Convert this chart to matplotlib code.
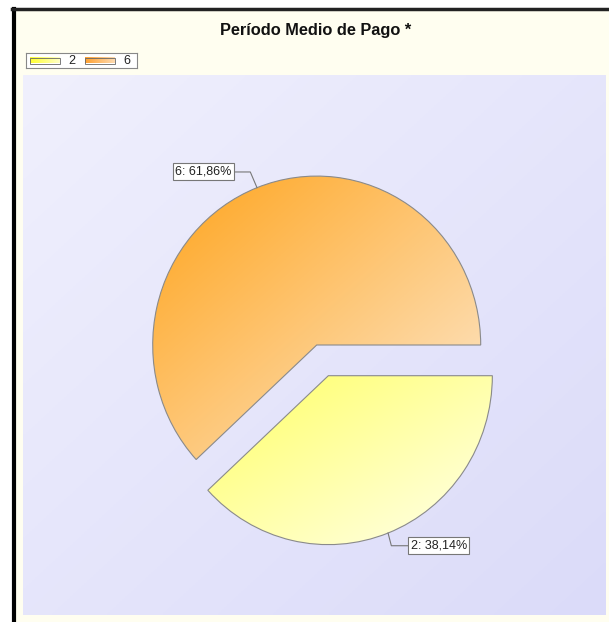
import numpy as np
import matplotlib
matplotlib.use("Agg")
import matplotlib.pyplot as plt
from matplotlib.colors import to_rgb
from matplotlib.patches import Rectangle

plt.rcParams['font.family'] = ['Liberation Sans', 'DejaVu Sans']

TITLE = "Período Medio de Pago *"
categories = ["2", "6"]
values = [38.14, 61.86]
fill_from = ["#ffff66", "#ffa41c"]   # gradient start (top-left)
fill_to = ["#ffffec", "#fde9d0"]     # gradient end (bottom-right)

W, H = 609, 622
SY = 1.03   # source image is slightly stretched vertically (pixels per data unit in y)


def fx(px):
    return px / W


def fy(py):
    return 1 - py / H


def gradient(c0, c1, n=200, diag=True, tmax=1.0):
    """gradient image, top-left -> bottom-right (or left -> right)"""
    u = np.linspace(0, 1, n)
    U, V = np.meshgrid(u, u)          # V: 0 bottom .. 1 top (origin lower)
    t = (U + (1 - V)) / 2 if diag else U
    t = t * tmax
    a, b = np.array(to_rgb(c0)), np.array(to_rgb(c1))
    return a + (b - a) * t[..., None]


fig = plt.figure(figsize=(W / 100, H / 100), dpi=100, facecolor="white")

# cream chart background with black border on left / top
fig.add_artist(Rectangle((fx(12), 0), 1 - fx(12), fy(8), transform=fig.transFigure,
                         facecolor="#fffef0", edgecolor="none", zorder=-10))
fig.add_artist(plt.Line2D([fx(13.5), fx(13.5)], [0, fy(9)], transform=fig.transFigure,
                          color="black", lw=3, zorder=-5))
fig.add_artist(plt.Line2D([fx(12), 1], [fy(9), fy(9)], transform=fig.transFigure,
                          color="#222222", lw=2.5, zorder=-5))

fig.text(fx(316), fy(31), TITLE, ha="center", va="center", fontsize=11.8,
         fontweight="bold", color="#111111")

# legend
lg = fig.add_axes([fx(26), fy(68), fx(137) - fx(26), fy(53) - fy(68)])
lg.set_xticks([]); lg.set_yticks([])
lg.set_facecolor("white")
for s in lg.spines.values():
    s.set_color("#888888"); s.set_linewidth(0.8)
legend_from = ["#ffff30", "#ffa030"]
for i, (cat, c0, c1) in enumerate(zip(categories, legend_from, fill_to)):
    x0 = 4 + i * 55
    lg.imshow(gradient(c0, c1, diag=False, tmax=0.8), extent=[x0, x0 + 30, 4.5, 10.5],
              origin="lower", aspect="auto")
    lg.add_patch(Rectangle((x0, 4.5), 30, 6, fill=False, edgecolor="#666666", lw=0.6))
    lg.text(x0 + 42, 7.5, cat, ha="center", va="center", fontsize=9, color="#222222")
lg.set_xlim(0, 111); lg.set_ylim(0, 15)

# plot area, 1 data unit = 1 pixel in x, SY pixels in y
PL, PT, PR, PB = 23, 75, 606, 615
ax = fig.add_axes([fx(PL), fy(PB), fx(PR) - fx(PL), fy(PT) - fy(PB)])
pw, ph = PR - PL, (PB - PT) / SY
ax.imshow(gradient("#f0f0fd", "#dbdbf9"), extent=[0, pw, 0, ph], origin="lower",
          aspect="auto", zorder=0)

cx, cy, r = 316.7 - PL, (PB - 345) / SY, 164
explode = [32, 0]   # matplotlib takes explode in data units
wedges, _ = ax.pie(values, explode=explode, startangle=0, counterclock=False,
                   center=(cx, cy), radius=r,
                   wedgeprops=dict(edgecolor="#8a8a8a", linewidth=0.8, facecolor="none"))
for w, c0, c1 in zip(wedges, fill_from, fill_to):
    bb = w.get_path().get_extents()
    im = ax.imshow(gradient(c0, c1), extent=[bb.x0, bb.x1, bb.y0, bb.y1],
                   origin="lower", aspect="auto", zorder=1)
    im.set_clip_path(w)
    w.set_zorder(2)

# labels with leader lines
for w, cat, v in zip(wedges, categories, values):
    wx, wy = w.center
    mid = np.deg2rad((w.theta1 + w.theta2) / 2)
    px, py = wx + r * np.cos(mid), wy + r * np.sin(mid)
    txt = f"{cat}: {v:.2f}%".replace(".", ",")
    if np.cos(mid) < 0:
        ex, ey = px - 6.7, py + 15.7 / SY
        tx, ha = ex - 18.5, "right"
    else:
        ex, ey = px + 3.3, py - 12.7 / SY
        tx, ha = ex + 19.2, "left"
    ax.plot([px, ex, tx], [py, ey, ey], color="#777777", lw=0.8, zorder=3)
    ax.text(tx, ey, txt, ha=ha, va="center", fontsize=9, color="#222222", zorder=4,
            bbox=dict(boxstyle="square,pad=0.2", fc="white", ec="#777777", lw=0.8))

ax.set_aspect("auto")
ax.set_xlim(0, pw); ax.set_ylim(0, ph)
ax.set_axis_off()

fig.savefig("out.png", dpi=100, facecolor=fig.get_facecolor())
